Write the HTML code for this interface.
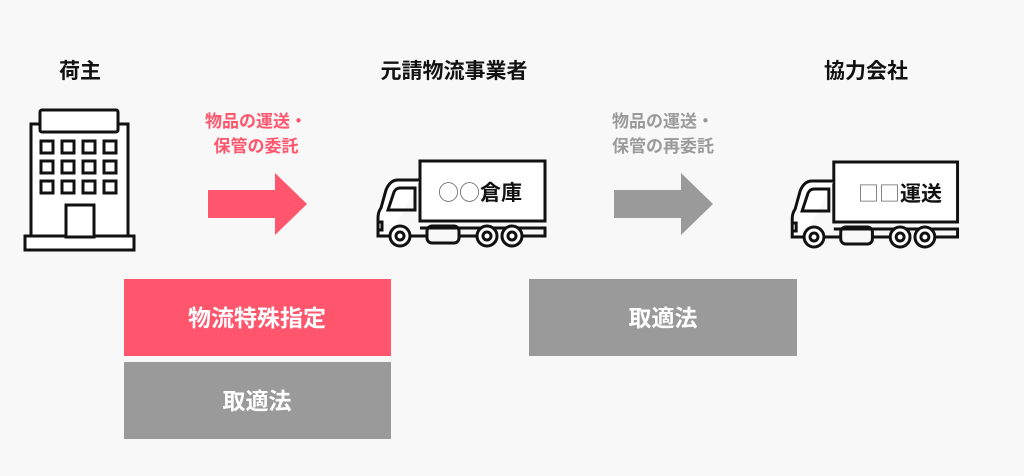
<!DOCTYPE html>
<html><head><meta charset="utf-8"><style>
body{margin:0;background:#f8f8f8;}
svg{display:block}
text{font-family:"Liberation Sans","Noto Sans CJK JP",sans-serif;font-weight:bold}
.sym{font-family:"Noto Sans CJK JP",sans-serif;font-weight:normal;fill:#666}
</style></head><body>
<svg width="1024" height="476" viewBox="0 0 1024 476" xmlns="http://www.w3.org/2000/svg">
<rect width="1024" height="476" fill="#f8f8f8"/>
<defs>
<g id="truck" fill="none" stroke="#111" stroke-width="3">
<rect x="420" y="161" width="125" height="60" fill="#fff"/>
<path d="M420 180 H398 Q390 180 386 190 L381 208 Q378 212 378 218 V236 H390" fill="#fff"/>
<path d="M408 188 H415 V210 H388 L394 192 Q396 188 400 188 Z"/>
<path d="M378 222 h4 v8 h-4"/>
<rect x="427" y="226" width="32" height="17" rx="5"/>
<path d="M410 236 H427 M459 236 H477 M522 236 H545 V228 H420"/>
<circle cx="400" cy="236" r="10" fill="#fff"/><circle cx="400" cy="236" r="4"/>
<circle cx="487" cy="236" r="10" fill="#fff"/><circle cx="487" cy="236" r="4"/>
<circle cx="512" cy="236" r="10" fill="#fff"/><circle cx="512" cy="236" r="4"/>
</g>
</defs>
<text x="80" y="78" font-size="21" text-anchor="middle" fill="#111">荷主</text>
<text x="454" y="78" font-size="21" text-anchor="middle" fill="#111">元請物流事業者</text>
<text x="866" y="78" font-size="21" text-anchor="middle" fill="#111">協力会社</text>
<!-- building -->
<g fill="#fff" stroke="#111" stroke-width="3">
<rect x="31" y="124" width="97" height="114"/>
<rect x="40" y="110" width="78" height="22" rx="2"/>
<rect x="25" y="236" width="109" height="14"/>
<rect x="66" y="205" width="28" height="32"/>
</g>
<g fill="none" stroke="#111" stroke-width="3">
<rect x="41" y="141" width="12" height="12"/><rect x="62" y="141" width="12" height="12"/><rect x="83" y="141" width="12" height="12"/><rect x="104" y="141" width="12" height="12"/>
<rect x="41" y="161" width="12" height="12"/><rect x="62" y="161" width="12" height="12"/><rect x="83" y="161" width="12" height="12"/><rect x="104" y="161" width="12" height="12"/>
<rect x="41" y="181" width="12" height="12"/><rect x="62" y="181" width="12" height="12"/><rect x="83" y="181" width="12" height="12"/><rect x="104" y="181" width="12" height="12"/>
</g>
<text x="256" y="127" font-size="17" text-anchor="middle" fill="#ff566e">物品の運送・</text>
<text x="256" y="152" font-size="17" text-anchor="middle" fill="#ff566e">保管の委託</text>
<path d="M208 190 H275 V173 L307 204 L275 235 V218 H208 Z" fill="#ff566e"/>
<text x="663" y="127" font-size="17" text-anchor="middle" fill="#9a9a9a">物品の運送・</text>
<text x="663" y="152" font-size="17" text-anchor="middle" fill="#9a9a9a">保管の再委託</text>
<path d="M614 190 H681 V173 L713 204 L681 235 V218 H614 Z" fill="#9a9a9a"/>
<use href="#truck"/>
<use href="#truck" transform="translate(418,1) scale(0.99,1)"/>
<text x="480" y="200" font-size="21" text-anchor="middle" fill="#111"><tspan class="sym">○○</tspan>倉庫</text>
<text x="900" y="201" font-size="21" text-anchor="middle" fill="#111"><tspan class="sym">□□</tspan>運送</text>
<rect x="124" y="279" width="267" height="77" fill="#ff566e"/>
<text x="257" y="326" font-size="23" text-anchor="middle" fill="#fff">物流特殊指定</text>
<rect x="124" y="362" width="267" height="77" fill="#9a9a9a"/>
<text x="257" y="409" font-size="23" text-anchor="middle" fill="#fff">取適法</text>
<rect x="529" y="279" width="268" height="77" fill="#9a9a9a"/>
<text x="663" y="326" font-size="23" text-anchor="middle" fill="#fff">取適法</text>
</svg>
</body></html>
